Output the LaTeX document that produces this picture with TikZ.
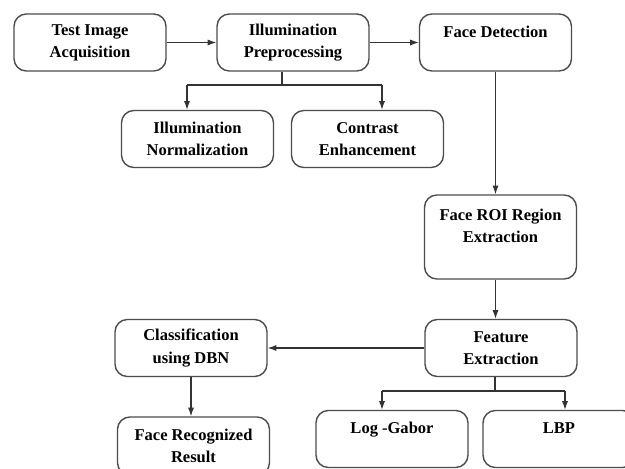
\documentclass[tikz,border=0pt]{standalone}
\usepackage{fontspec}
\setmainfont{Liberation Serif}
\usetikzlibrary{calc,arrows.meta}

\tikzset{
  blk/.style={draw=black!70,line width=0.8pt,rounded corners=7pt,
    minimum width=3.04cm,minimum height=1.14cm,align=center,inner sep=1pt,
    font=\fontsize{9.4}{12.6}\selectfont\bfseries},
  conn/.style={color=black!80,line width=0.6pt},
  >={Latex[length=5pt,width=3.5pt]}
}

\begin{document}
\begin{tikzpicture}[x=0.02cm,y=-0.02cm]
      \clip (0,0) rectangle (625,469);
      \fill[white] (0,0) rectangle (625,469);

      \node[blk] (acq) at (90,42.5) {Test Image\\Acquisition};
      \node[blk] (pre) at (293,42.5) {Illumination\\Preprocessing};
      \node[blk] (det) at (495.5,42.5) {Face Detection\\\phantom{X}};
      \node[blk] (norm) at (197.5,139) {Illumination\\Normalization};
      \node[blk] (cont) at (367.5,139) {Contrast\\Enhancement};
      \node[blk,minimum height=1.68cm] (roi) at (500.5,237)
            {Face ROI Region\\Extraction\\\phantom{X}};
      \node[blk] (feat) at (501,348) {Feature\\Extraction};
      \node[blk] (cls) at (191,348) {Classification\\using DBN};
      \node[blk,minimum height=1.16cm] (res) at (193.5,446)
            {Face Recognized\\Result};
      \node[blk] (gab) at (392,439) {Log -Gabor\\\phantom{X}};
      \node[blk] (lbp) at (559,439) {LBP\\\phantom{X}};

      \coordinate (j1) at (282,85);
      \coordinate (j1l) at (187,85);
      \coordinate (j1r) at (382,85);
      \coordinate (j2) at (495,391);
      \coordinate (j2l) at (382,391);
      \coordinate (j2r) at (565,391);

      \path[conn,->] (acq) edge (pre) (pre) edge (det)
      (feat) edge (cls);
      \path[conn,->] (det.south) edge (det.south |- roi.north)
      (det.south |- roi.south) edge (det.south |- feat.north)
      (cls.south) edge (cls.south |- res.north);

      \draw[conn] (j1 |- pre.south) -- (j1) (j1l) -- (j1r);
      \path[conn,->] (j1l) edge (j1l |- norm.north)
      (j1r) edge (j1r |- cont.north);

      \draw[conn] (j2 |- feat.south) -- (j2) (j2l) -- (j2r);
      \path[conn,->] (j2l) edge (j2l |- gab.north)
      (j2r) edge (j2r |- lbp.north);
\end{tikzpicture}
\end{document}
